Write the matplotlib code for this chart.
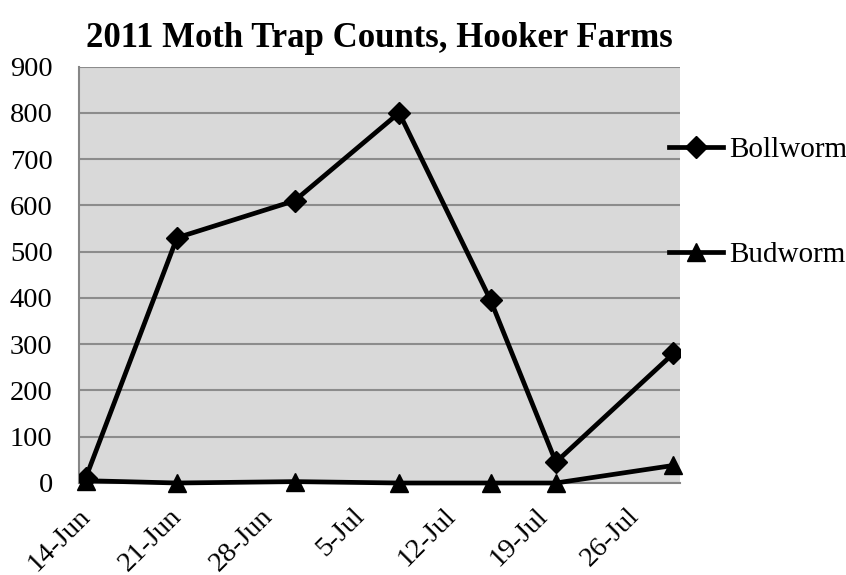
import numpy as np
import pandas as pd
import matplotlib
matplotlib.use("Agg")
import matplotlib.pyplot as plt
from matplotlib.transforms import ScaledTranslation

# trap dates and counts
dates = ["2011-06-14", "2011-06-21", "2011-06-30", "2011-07-08",
         "2011-07-15", "2011-07-20", "2011-07-29"]
bollworm = [10, 530, 610, 800, 395, 45, 280]
budworm = [5, 0, 3, 0, 0, 0, 38]
tick_dates = ["2011-06-14", "2011-06-21", "2011-06-28", "2011-07-05",
              "2011-07-12", "2011-07-19", "2011-07-26"]

plt.rcParams['font.family'] = ['Liberation Serif', 'DejaVu Serif']

# excel style date axis: each day is a bin, points sit mid-bin
half = pd.Timedelta(hours=12)
x = pd.to_datetime(dates) + half
xt = pd.to_datetime(tick_dates) + half

fig = plt.figure(figsize=(8.46, 5.75), dpi=100)
ax = fig.add_axes([0.0934, 0.16, 0.7104, 0.7243])
ax.set_facecolor('#d9d9d9')

ax.plot(x, bollworm, color='black', lw=3.4, marker='D', ms=11.5,
        label='Bollworm', zorder=3)
ax.plot(x, budworm, color='black', lw=3.4, marker='^', ms=13,
        label='Budworm', zorder=3, clip_on=False)

ax.set_xlim(pd.Timestamp("2011-06-14"), pd.Timestamp("2011-07-30"))
ax.set_ylim(0, 900)
ax.set_yticks(np.arange(0, 901, 100))
ax.yaxis.grid(True, color='#8c8c8c', lw=1.5)
ax.set_axisbelow(True)

ax.set_xticks(xt)
ax.set_xticklabels([f"{d.day}-{d:%b}" for d in pd.to_datetime(tick_dates)],
                   rotation=45, ha='right', rotation_mode='anchor')
ax.tick_params(axis='both', length=0, labelsize=20.5)
ax.tick_params(axis='x', pad=15)
ax.tick_params(axis='y', pad=19)
shift = ScaledTranslation(-8 / 100, 0, fig.dpi_scale_trans)
for lab in ax.get_xticklabels():
    lab.set_transform(lab.get_transform() + shift)

for s in ['top', 'right']:
    ax.spines[s].set_visible(False)
for s in ['left', 'bottom']:
    ax.spines[s].set_color('#868686')
    ax.spines[s].set_linewidth(1.5)

ax.set_title('2011 Moth Trap Counts, Hooker Farms', fontsize=25,
             fontweight='bold', pad=14)

ax.legend(loc='upper left', bbox_to_anchor=(0.791, 0.762),
          bbox_transform=fig.transFigure, frameon=False, fontsize=21,
          handlelength=1.85, handletextpad=0.2, labelspacing=2.68,
          borderaxespad=0, borderpad=0)

fig.savefig('out.png', dpi=100)
